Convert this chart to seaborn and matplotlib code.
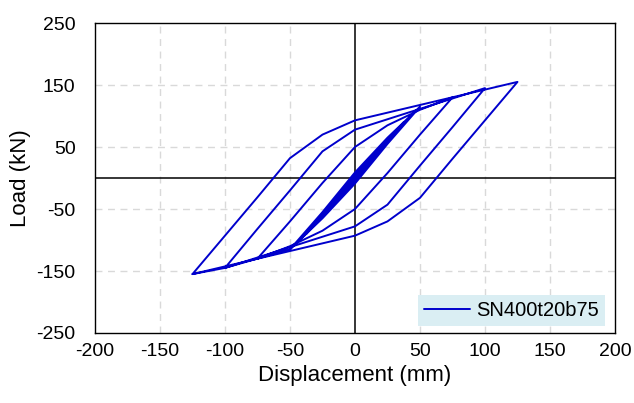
import pandas as pd
import seaborn as sns
import matplotlib.pyplot as plt

# hysteresis loops, each one closed: (-d) -> (+d) -> (-d)
loop_12_x = [-12.5, 0, 12.5, 0, -12.5]
loop_12_y = [-33, 1, 33, -1, -33]

loop_25_x = [-25, 0, 25, 0, -25]
loop_25_y = [-63, 3, 63, -3, -63]

loop_37_x = [-37.5, 0, 37.5, 0, -37.5]
loop_37_y = [-90, 5, 90, -5, -90]

loop_50_x = [-50, -25, 0, 25, 50, 25, 0, -25, -50]
loop_50_y = [-115, -55, 9, 65, 115, 55, -9, -65, -115]

loop_75_x = [-75, -50, -25, 0, 25, 50, 75, 50, 25, 0, -25, -50, -75]
loop_75_y = [-130, -70, -8, 50, 85, 110, 130, 70, 8, -50, -85, -110, -130]

loop_100_x = [-100, -75, -50, -25, 0, 100, 75, 50, 25, 0, -100]
loop_100_y = [-145, -82, -20, 43, 78, 145, 82, 20, -43, -78, -145]

loop_125_x = [-125, -100, -75, -50, -25, 0, 125, 100, 75, 50, 25, 0, -125]
loop_125_y = [-155, -93, -31, 32, 70, 93, 155, 93, 31, -32, -70, -93, -155]

x_ticks = [-200, -150, -100, -50, 0, 50, 100, 150, 200]
y_ticks = [-250, -150, -50, 50, 150, 250]
specimen = "SN400t20b75"

xs = [0] + loop_12_x + loop_25_x + loop_37_x + loop_50_x + loop_75_x + loop_100_x + loop_125_x
ys = [0] + loop_12_y + loop_25_y + loop_37_y + loop_50_y + loop_75_y + loop_100_y + loop_125_y
df = pd.DataFrame({"disp": xs, "load": ys})

sns.set_style("white")
plt.rcParams["font.family"] = ["Liberation Sans", "DejaVu Sans"]
plt.rcParams["axes.unicode_minus"] = False
plt.rcParams["text.color"] = "black"
plt.rcParams["axes.labelcolor"] = "black"
plt.rcParams["xtick.color"] = "black"
plt.rcParams["ytick.color"] = "black"

fig = plt.figure(figsize=(6.34, 4.03), dpi=100)
ax = fig.add_axes([0.1498, 0.1737, 0.8202, 0.7692])

# dashed grid + solid axes through zero
for v in x_ticks[1:-1]:
    if v != 0:
        ax.axvline(v, color="#D9D9D9", lw=1, ls=(0, (5, 4)), zorder=0)
for v in y_ticks[1:-1]:
    ax.axhline(v, color="#D9D9D9", lw=1, ls=(0, (5, 4)), zorder=0)
ax.axvline(0, color="black", lw=1.1, zorder=1)
ax.axhline(0, color="black", lw=1.1, zorder=1)

sns.lineplot(data=df, x="disp", y="load", sort=False, estimator=None,
             color="#0000CC", lw=1.4, label=specimen, ax=ax, zorder=3)

ax.set_xlim(-200, 200)
ax.set_ylim(-250, 250)
ax.set_xticks(x_ticks)
ax.set_yticks(y_ticks)
ax.tick_params(axis="both", length=0, labelsize=14, labelcolor="black")
ax.tick_params(axis="x", pad=7)
ax.tick_params(axis="y", pad=14)
ax.set_xlabel("Displacement (mm)", fontsize=16, labelpad=4, color="black")
ax.set_ylabel("Load (kN)", fontsize=16, labelpad=4, color="black")

for s in ax.spines.values():
    s.set_color("black")
    s.set_linewidth(1)

leg = ax.legend(loc="lower right", bbox_to_anchor=(0.981, 0.023), borderaxespad=0,
                fontsize=14.5, handlelength=2.3, handletextpad=0.3, borderpad=0.3,
                fancybox=False, framealpha=1, facecolor="#DAEEF3", edgecolor="none")
for t in leg.get_texts():
    t.set_color("black")

fig.savefig("out.png", dpi=100)
